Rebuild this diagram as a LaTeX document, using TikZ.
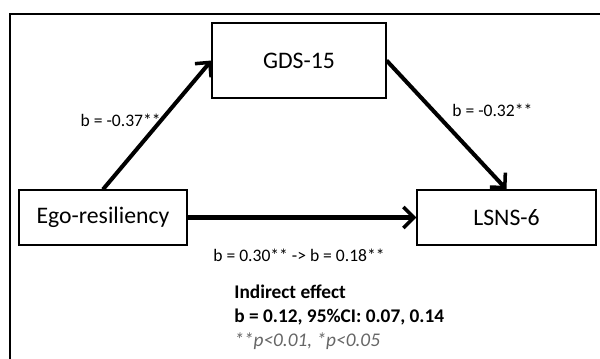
\documentclass[tikz,border=0pt]{standalone}
\usepackage{fontspec}
\setmainfont{Carlito}
\usetikzlibrary{arrows.meta}
\begin{document}
\begin{tikzpicture}[
  x=0.02cm, y=-0.02cm,
  font=\fontsize{10}{12}\selectfont,
  var/.style={draw, line width=0.7pt, minimum height=1.1cm, align=center,
    font=\fontsize{13.5}{16}\selectfont, inner sep=0pt},
  path/.style={line width=2.3pt, -{Straight Barb[length=6pt,width=12pt,line width=2pt]}},
  coef/.style={inner sep=0pt},
  note/.style={anchor=west, inner sep=0pt, font=\fontsize{11}{13}\selectfont\bfseries}]
\useasboundingbox (0,0) rectangle (600,359);
% frame
\draw[line width=0.8pt] (10,359) -- (10,14) -- (600,14);
% variables
\node[var, minimum width=3.48cm, minimum height=1.5cm] (gds) at (299,60.5) {GDS-15};
\node[var, minimum width=3.36cm] (ego) at (103,217.5) {Ego-resiliency};
\node[var, minimum width=3.58cm] (lsns) at (506.5,217.5) {LSNS-6};
% paths
\draw[path] (ego.north) -- (gds.west);
\draw[path] (gds.east) -- (lsns.north);
\draw[path] (ego.east) -- (lsns.west);
% coefficients
\node[coef, anchor=east] (a) at (161,120) {b = -0.37**};
\node[coef, anchor=west] (b) at (452,110) {b = -0.32**};
\node[coef] (c) at (299,255) {b = 0.30** -> b = 0.18**};
% indirect effect
\node[note] (ind) at (234,292) {Indirect effect};
\node[note] (ci) at (234,317) {b = 0.12, 95\%CI: 0.07, 0.14};
\node[note, text=black!60, font=\fontsize{11}{13}\selectfont\itshape] (sig) at (234,341) {**p<0.01, *p<0.05};
\end{tikzpicture}
\end{document}
